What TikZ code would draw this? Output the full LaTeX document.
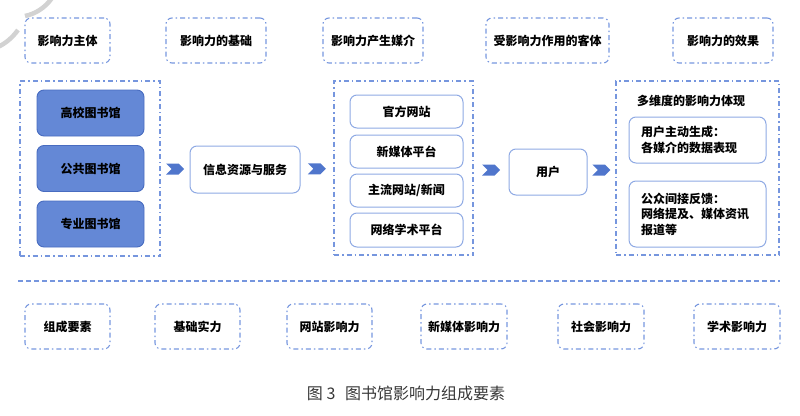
\documentclass[tikz,border=0pt]{standalone}
\usepackage{fontspec}
\newfontfamily\cjk{Noto Sans CJK SC}
\usetikzlibrary{shapes.symbols,calc}
\definecolor{ddblue}{RGB}{118,150,222}
\definecolor{libfill}{RGB}{100,136,214}
\definecolor{libdraw}{RGB}{72,108,192}
\definecolor{boxdraw}{RGB}{143,170,228}
\definecolor{chevfill}{RGB}{80,118,204}
\definecolor{capgray}{RGB}{55,55,55}
\tikzset{
  txt/.style={font=\cjk\bfseries\fontsize{12}{16}\selectfont, text=black},
  dd/.style={draw=ddblue, line width=1.1pt, dash pattern=on 5pt off 3pt on 1.5pt off 3pt},
  hdr/.style={dd, txt, rounded corners=6pt, minimum height=45pt, inner sep=0pt},
  bigbox/.style={dd, inner sep=0pt},
  libbox/.style={txt, draw=libdraw, fill=libfill, line width=0.9pt, rounded corners=7pt, minimum width=107pt, minimum height=46pt, inner sep=0pt},
  wbox/.style={txt, draw=boxdraw, fill=white, line width=1pt, rounded corners=7pt, inner sep=0pt},
  chev/.style={shape=signal, signal to=east, signal from=west, fill=chevfill, draw=none, minimum width=18pt, minimum height=11pt, inner sep=0pt},
}
\begin{document}
\begin{tikzpicture}[x=1pt,y=-1pt]
\useasboundingbox (0,0) rectangle (800,415);
% gray watermark arcs
\draw[gray!35, line width=4.5pt] (52,-2) .. controls (45,8) and (35,14) .. (25,16);
\draw[gray!35, line width=4.5pt] (18,30) .. controls (12,38) and (6,43) .. (-2,47);
% headers
\node[hdr, minimum width=85pt]  (h1) at (67.5,40.5) {影响力主体};
\node[hdr, minimum width=100pt] (h2) at (216,40.5) {影响力的基础};
\node[hdr, minimum width=100pt] (h3) at (373,40.5) {影响力产生媒介};
\node[hdr, minimum width=123pt] (h4) at (547.5,40.5) {受影响力作用的客体};
\node[hdr, minimum width=100pt] (h5) at (723,40.5) {影响力的效果};
% big boxes
\node[bigbox, minimum width=140pt, minimum height=175pt] (left) at (90,168.5) {};
\node[bigbox, minimum width=139pt, minimum height=174pt] (media) at (403.5,168) {};
\node[bigbox, minimum width=163pt, minimum height=174pt] (right) at (697.5,168) {};
% libraries
\node[libbox] (lib1) at (90.5,113) {高校图书馆};
\node[libbox] (lib2) at (90.5,168.5) {公共图书馆};
\node[libbox] (lib3) at (90.5,224) {专业图书馆};
% info
\node[wbox, minimum width=110pt, minimum height=47pt] (info) at (245,169.5) {信息资源与服务};
% media items
\node[wbox, minimum width=113pt, minimum height=33pt] (m1) at (406.5,111.5) {官方网站};
\node[wbox, minimum width=113pt, minimum height=33pt] (m2) at (406.5,151.5) {新媒体平台};
\node[wbox, minimum width=113pt, minimum height=33pt] (m3) at (406.5,190.5) {主流网站/新闻};
\node[wbox, minimum width=113pt, minimum height=34pt] (m4) at (406.5,230) {网络学术平台};
% user
\node[wbox, minimum width=78pt, minimum height=46pt] (user) at (548,172) {用户};
% chevrons
\node[chev] (c1) at ($(left.east)!0.5!(info.west)$) {};
\node[chev] (c2) at ($(info.east)!0.5!(media.west)$) {};
\node[chev] (c3) at ($(media.east)!0.5!(user.west)$) {};
\node[chev] (c4) at ($(user.east)!0.5!(right.west)$) {};
% right contents
\node[txt, anchor=west, inner sep=0pt] (rt) at (637,101) {多维度的影响力体现};
\node[wbox, minimum width=137pt, minimum height=46pt, text width=113pt, align=left, inner xsep=12pt] (e1) at (697.5,140) {用户主动生成：\\各媒介的数据表现};
\node[wbox, minimum width=137pt, minimum height=66pt, text width=113pt, align=left, inner xsep=12pt, font=\cjk\bfseries\fontsize{12}{15.5}\selectfont] (e2) at (697.5,214) {公众间接反馈：\\网络提及、媒体资讯\\报道等};
% separator
\coordinate (sl) at (18,281);
\coordinate (sr) at (780,281);
\draw[ddblue, line width=1.1pt, dash pattern=on 5pt off 3pt] (sl) -- (sr);
% bottom boxes
\node[hdr, minimum width=85pt] (b1) at (67.5,326.5) {组成要素};
\node[hdr, minimum width=85pt] (b2) at (197.5,326.5) {基础实力};
\node[hdr, minimum width=85pt] (b3) at (329.5,326.5) {网站影响力};
\node[hdr, minimum width=86pt] (b4) at (464,326.5) {新媒体影响力};
\node[hdr, minimum width=86pt] (b5) at (601,326.5) {社会影响力};
\node[hdr, minimum width=86pt] (b6) at (737,326.5) {学术影响力};
% caption
\node[font=\cjk\fontsize{16}{18}\selectfont, text=capgray, inner sep=0pt] (cap) at (406,393) {图 3\hspace{0.6em}图书馆影响力组成要素};
\end{tikzpicture}
\end{document}
